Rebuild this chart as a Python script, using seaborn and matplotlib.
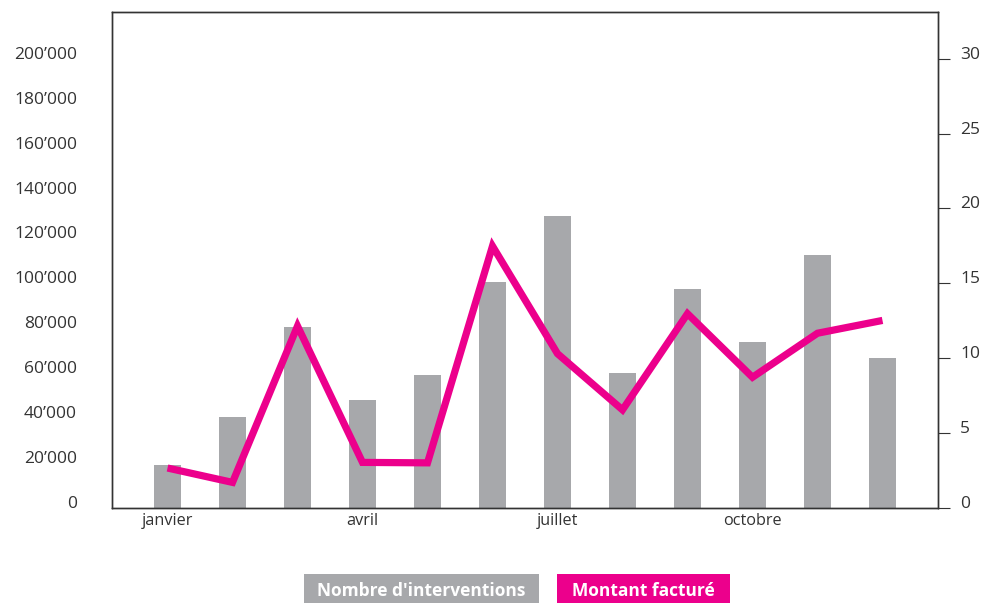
import matplotlib
matplotlib.use("Agg")
import matplotlib.pyplot as plt
import seaborn as sns
import numpy as np
import pandas as pd
from matplotlib.patches import Rectangle

# ---- data ----
mois = ["janvier", "février", "mars", "avril", "mai", "juin", "juillet",
        "août", "septembre", "octobre", "novembre", "décembre"]
interventions = [2.9, 6.1, 12.1, 7.2, 8.9, 15.1, 19.5, 9.0, 14.6, 11.1, 16.9, 10.0]
montant = [17800, 11400, 81000, 20300, 20100, 116600, 68700, 43700, 86500,
           58200, 77800, 83500]
mois_affiches = ["janvier", "avril", "juillet", "octobre"]
ticks_gauche = [0, 20000, 40000, 60000, 80000, 100000, 120000, 140000,
                160000, 180000, 200000]
ticks_droite = [0, 5, 10, 15, 20, 25, 30]
legende = ["Nombre d'interventions", "Montant facturé"]

GRIS = "#A7A8AB"
ROSE = "#EC008C"
TXT = "#333333"

sns.set_theme(style="white")
plt.rcParams["font.family"] = ["Open Sans", "DejaVu Sans"]

W, H = 982, 603
fig = plt.figure(figsize=(W / 100, H / 100), dpi=100)
ax = fig.add_axes([112 / W, (H - 508) / H, 826 / W, 496 / H])
ax2 = ax.twinx()

df = pd.DataFrame({"mois": mois, "interventions": interventions, "montant": montant})
df["pos"] = np.arange(len(mois))

sns.barplot(data=df, x="mois", y="interventions", ax=ax2, color=GRIS,
            width=0.415, saturation=1, linewidth=0)
ax.set_zorder(ax2.get_zorder() + 1)
ax.patch.set_visible(False)
sns.lineplot(data=df, x="pos", y="montant", ax=ax, color=ROSE, linewidth=5.2,
             solid_joinstyle="miter", solid_capstyle="butt")

ax.set_xlim(-0.854, 11.854)
ax.set_ylim(0, 220800)
ax2.set_ylim(0, 33.12)

ax.set_xticks([mois.index(m) for m in mois_affiches])
ax.set_xticklabels(mois_affiches)
ax.set_xlabel("")
ax.set_ylabel("")
ax2.set_ylabel("")
ax2.set_xlabel("")

ax.set_yticks(ticks_gauche)
ax.set_yticklabels([f"{v:,}".replace(",", "\u2019") for v in ticks_gauche])
ax2.set_yticks(ticks_droite)
ax2.set_yticklabels([str(v) for v in ticks_droite])

ax.tick_params(axis="x", length=0, pad=3.5, labelsize=11.7, labelcolor=TXT)
ax.tick_params(axis="y", length=0, pad=25.2, labelsize=12.5, labelcolor=TXT)
ax2.tick_params(axis="y", right=True, length=8.6, width=0.8, color="#333333",
                pad=7.2, labelsize=12.5, labelcolor=TXT)
for lab in ax.get_yticklabels() + ax2.get_yticklabels():
    lab.set_verticalalignment("baseline")

for a in (ax, ax2):
    for s in a.spines.values():
        s.set_visible(True)
        s.set_color("#333333")
        s.set_linewidth(1.0)

# legend boxes
boites = [(304, 539, GRIS), (557, 730, ROSE)]
for (x0, x1, c), txt in zip(boites, legende):
    fig.add_artist(Rectangle((x0 / W, 0), (x1 - x0) / W, 29 / H,
                             transform=fig.transFigure, facecolor=c,
                             edgecolor="none"))
    fig.text((x0 + x1) / 2 / W, 12 / H, txt, ha="center", va="center",
             color="white", fontsize=12.5, fontweight="bold")

fig.savefig("out.png", dpi=100)
